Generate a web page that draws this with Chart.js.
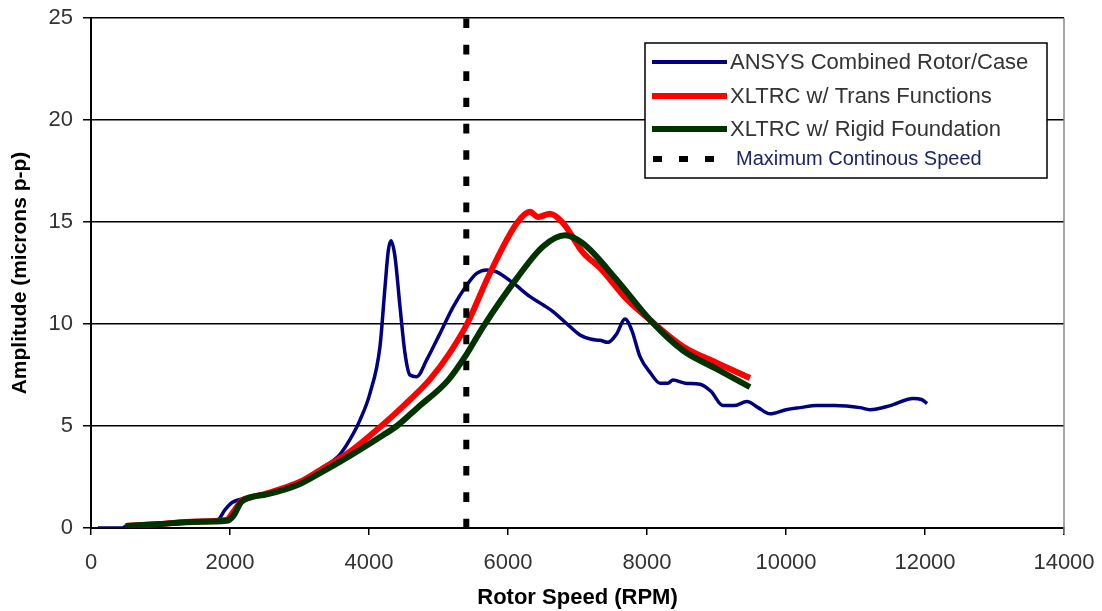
<!DOCTYPE html>
<html>
<head>
<meta charset="utf-8">
<script src="https://cdn.jsdelivr.net/npm/chart.js@4/dist/chart.umd.min.js"></script>
<style>
html,body{margin:0;padding:0;background:#fff;}
canvas{display:block;}
</style>
</head>
<body>
<canvas id="c" width="1102" height="611"></canvas>
<script>
// ---- data ----
const ansysRpm = [100, 460, 500, 1000, 1500, 1820, 1930, 2030, 2200, 2530, 3000, 3300, 3580, 3770, 3870, 4014, 4158, 4230, 4278, 4317, 4374, 4446, 4518, 4590, 4686, 4830, 5022, 5213, 5405, 5549, 5693, 5837, 6077, 6317, 6508, 6652, 6850, 7036, 7200, 7324, 7439, 7560, 7683, 7780, 7899, 8050, 8187, 8300, 8374, 8550, 8763, 8920, 9094, 9250, 9439, 9600, 9770, 10000, 10200, 10446, 10700, 11065, 11209, 11500, 11827, 11950, 12029];
const ansysAmp = [0, 0, 0.1, 0.2, 0.32, 0.4, 0.9, 1.25, 1.45, 1.7, 2.25, 2.9, 3.6, 4.6, 5.29, 6.6, 8.9, 11.8, 13.6, 14.08, 13.3, 10.85, 8.56, 7.5, 7.42, 8.24, 9.54, 10.85, 11.9, 12.48, 12.65, 12.56, 12.0, 11.34, 10.93, 10.6, 10.0, 9.46, 9.25, 9.2, 9.1, 9.5, 10.24, 9.7, 8.4, 7.6, 7.1, 7.1, 7.25, 7.1, 7.05, 6.7, 6.0, 6.0, 6.2, 5.9, 5.6, 5.8, 5.9, 6.0, 6.0, 5.9, 5.8, 6.0, 6.35, 6.3, 6.1];

const transRpm = [500, 1000, 1500, 1950, 2050, 2170, 2300, 2530, 3000, 3300, 3730, 4160, 4500, 4880, 5165, 5410, 5741, 6129, 6316, 6432, 6604, 6791, 7079, 7324, 7712, 8043, 8518, 9000, 9482];
const transAmp = [0.1, 0.2, 0.32, 0.4, 0.8, 1.35, 1.5, 1.7, 2.25, 2.84, 3.75, 4.95, 6.0, 7.3, 8.6, 10.0, 12.5, 14.95, 15.5, 15.25, 15.4, 14.95, 13.5, 12.75, 11.2, 10.2, 8.9, 8.1, 7.35];

const rigidRpm = [500, 1000, 1500, 1950, 2050, 2170, 2530, 3000, 3300, 3730, 4200, 4400, 4700, 5140, 5410, 5640, 6129, 6504, 6820, 7079, 7568, 8043, 8518, 9000, 9482];
const rigidAmp = [0.1, 0.2, 0.3, 0.35, 0.6, 1.3, 1.65, 2.15, 2.7, 3.55, 4.55, 5.0, 5.9, 7.25, 8.55, 9.85, 12.25, 13.8, 14.35, 13.95, 12.15, 10.2, 8.7, 7.8, 6.9];

const mcsRpm = [5400, 5400];
const mcsAmp = [0, 25];

const seriesLabels = ['ANSYS Combined Rotor/Case', 'XLTRC w/ Trans Functions', 'XLTRC w/ Rigid Foundation', 'Maximum Continous Speed'];
const xTickValues = [0, 2000, 4000, 6000, 8000, 10000, 12000, 14000];
const yTickValues = [0, 5, 10, 15, 20, 25];
const xTitle = 'Rotor Speed (RPM)';
const yTitle = 'Amplitude (microns p-p)';

const pts = (xs, ys) => xs.map((x, i) => ({x: x, y: ys[i]}));

const colors = ['#000080', '#ff0000', '#003300', '#000000'];
const widths = [3.5, 6, 6, 6];

const legendPlugin = {
  id: 'boxLegend',
  afterDraw(chart) {
    const c = chart.ctx;
    const bx = 645, by = 43, bw = 402, bh = 135;
    c.save();
    c.fillStyle = '#fff';
    c.fillRect(bx, by, bw, bh);
    c.strokeStyle = '#000';
    c.lineWidth = 1.5;
    c.strokeRect(bx, by, bw, bh);
    const rows = [62, 96, 129, 159];
    for (let i = 0; i < 4; i++) {
      const y = rows[i];
      c.strokeStyle = colors[i];
      c.lineCap = 'butt';
      if (i < 3) {
        c.lineWidth = i === 0 ? 4 : 6;
        c.beginPath(); c.moveTo(652, y); c.lineTo(727, y); c.stroke();
        c.fillStyle = '#333';
        c.font = '22px "Liberation Sans", Arial, sans-serif';
        c.textBaseline = 'middle';
        c.fillText(seriesLabels[i], 730, y + 1);
      } else {
        c.lineWidth = 6;
        c.setLineDash([9, 17]);
        c.beginPath(); c.moveTo(653, y); c.lineTo(727, y); c.stroke();
        c.setLineDash([]);
        c.fillStyle = '#1c2366';
        c.font = '20px "Liberation Sans", Arial, sans-serif';
        c.textBaseline = 'middle';
        c.fillText(seriesLabels[i], 736, y);
      }
    }
    c.restore();
  }
};

const rightBorder = {
  id: 'rightBorder',
  beforeDatasetsDraw(chart) {
    const a = chart.chartArea, c = chart.ctx;
    c.save();
    c.strokeStyle = '#888';
    c.lineWidth = 1.5;
    c.beginPath(); c.moveTo(a.right, a.top); c.lineTo(a.right, a.bottom + 6); c.stroke();
    c.restore();
  }
};

const tickFont = {family: '"Liberation Sans", Arial, sans-serif', size: 22};

new Chart(document.getElementById('c'), {
  type: 'line',
  data: {
    datasets: [
      {label: seriesLabels[0], data: pts(ansysRpm, ansysAmp), borderColor: colors[0], borderWidth: widths[0], order: 3},
      {label: seriesLabels[1], data: pts(transRpm, transAmp), borderColor: colors[1], borderWidth: widths[1], order: 2},
      {label: seriesLabels[2], data: pts(rigidRpm, rigidAmp), borderColor: colors[2], borderWidth: widths[2], order: 1},
      {label: seriesLabels[3], data: pts(mcsRpm, mcsAmp), borderColor: colors[3], borderWidth: widths[3], borderDash: [9.5, 16.8], borderCapStyle: 'butt', order: 0}
    ]
  },
  options: {
    responsive: false,
    animation: false,
    devicePixelRatio: 1,
    elements: {point: {radius: 0}, line: {cubicInterpolationMode: 'monotone', fill: false}},
    layout: {padding: {left: 8, right: 38, top: 18, bottom: 0}},
    plugins: {legend: {display: false}, tooltip: {enabled: false}},
    scales: {
      x: {
        type: 'linear', min: 0, max: 14000,
        afterBuildTicks: (s) => { s.ticks = xTickValues.map(v => ({value: v})); },
        afterFit: (s) => { s.height = 83; s.paddingLeft = 0; s.paddingRight = 0; },
        ticks: {color: '#333', font: tickFont, padding: 15, maxRotation: 0, callback: (v) => String(v)},
        grid: {drawOnChartArea: false, drawTicks: true, tickLength: 7, color: '#000', lineWidth: 1.5},
        border: {display: true, color: '#000', width: 2},
        title: {display: true, text: xTitle, color: '#000', font: {family: '"Liberation Sans", Arial, sans-serif', size: 22, weight: 'bold'}, padding: {top: 0, bottom: 0}}
      },
      y: {
        type: 'linear', min: 0, max: 25,
        afterBuildTicks: (s) => { s.ticks = yTickValues.map(v => ({value: v})); },
        afterFit: (s) => { s.width = 83; s.paddingTop = 0; s.paddingBottom = 0; },
        ticks: {color: '#333', font: tickFont, padding: 10, callback: (v) => String(v)},
        grid: {color: '#000', lineWidth: 1.5, drawTicks: true, tickLength: 8},
        border: {display: true, color: '#000', width: 2},
        title: {display: true, text: yTitle, color: '#000', font: {family: '"Liberation Sans", Arial, sans-serif', size: 21, weight: 'bold'}, padding: {top: 0, bottom: 6}}
      }
    }
  },
  plugins: [rightBorder, legendPlugin]
});
</script>
</body>
</html>
